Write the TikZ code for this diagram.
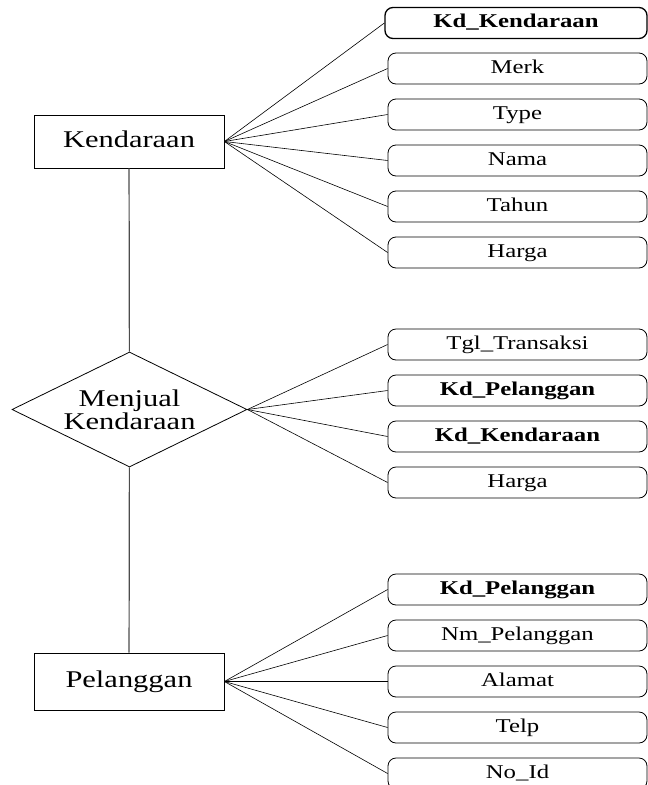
\documentclass[tikz,border=0pt]{standalone}
\usepackage{fontspec}
\setmainfont{Liberation Serif}[FakeStretch=1.27]
\usetikzlibrary{shapes.geometric, positioning}
\tikzstyle{entity} = [rectangle, minimum width=190pt, minimum height=53pt, text height=16pt, text depth=5pt, text centered, draw=black, line width=0.8pt, font=\fontsize{24}{26}\selectfont]
\tikzstyle{relation} = [diamond, shape aspect=2.04, inner sep=0pt, minimum width=235pt, minimum height=115pt, align=center, draw=black, line width=0.8pt, font=\fontsize{24}{23}\selectfont]
\tikzstyle{attr} = [rectangle, rounded corners=8pt, inner sep=2pt, minimum width=259pt, minimum height=31pt, text height=13pt, text depth=4pt, text centered, draw=black, line width=0.8pt, font=\fontsize{19.5}{22}\selectfont]
\tikzstyle{keyattr} = [attr, font=\fontsize{19.5}{22}\selectfont\bfseries]
\tikzstyle{link} = [line width=0.6pt]
\tikzstyle{rel} = [line width=1.2pt, draw=black!70]

\begin{document}
\begin{tikzpicture}[x=1pt, y=-1pt, node distance=46pt]
\useasboundingbox (0,0) rectangle (648,785);

% Entity Kendaraan
\node (kendaraan) [entity] at (129,141.5) {Kendaraan};
\node (kdkend) [keyattr, line width=1.3pt, minimum width=262pt] at (516,23) {Kd\_Kendaraan};
\node (merk) [attr] at (517.5,68.5) {Merk};
\node (type) [attr, below of=merk] {Type};
\node (nama) [attr, below of=type] {Nama};
\node (tahun) [attr, below of=nama] {Tahun};
\node (harga) [attr, below of=tahun] {Harga};

% Relationship
\node (menjual) [relation] at (129.5,409.5) {Menjual\\Kendaraan};
\node (tgl) [attr] at (517.5,344.5) {Tgl\_Transaksi};
\node (rkdpel) [keyattr, below of=tgl] {Kd\_Pelanggan};
\node (rkdkend) [keyattr, below of=rkdpel] {Kd\_Kendaraan};
\node (rharga) [attr, below of=rkdkend] {Harga};

% Entity Pelanggan
\node (pelanggan) [entity, minimum height=57pt] at (129,681.5) {Pelanggan};
\node (kdpel) [keyattr] at (517.5,589.5) {Kd\_Pelanggan};
\node (nmpel) [attr, below of=kdpel] {Nm\_Pelanggan};
\node (alamat) [attr, below of=nmpel] {Alamat};
\node (telp) [attr, below of=alamat] {Telp};
\node (noid) [attr, below of=telp] {No\_Id};

% Connections
\foreach \a in {kdkend, merk, type, nama, tahun, harga}
  \draw [link] (kendaraan.east) -- (\a.west);
\foreach \a in {tgl, rkdpel, rkdkend, rharga}
  \draw [link] (menjual.east) -- (\a.west);
\foreach \a in {kdpel, nmpel, alamat, telp, noid}
  \draw [link] (pelanggan.east) -- (\a.west);
\draw [rel] (kendaraan) -- (menjual);
\draw [rel] (menjual) -- (pelanggan);

\end{tikzpicture}
\end{document}
